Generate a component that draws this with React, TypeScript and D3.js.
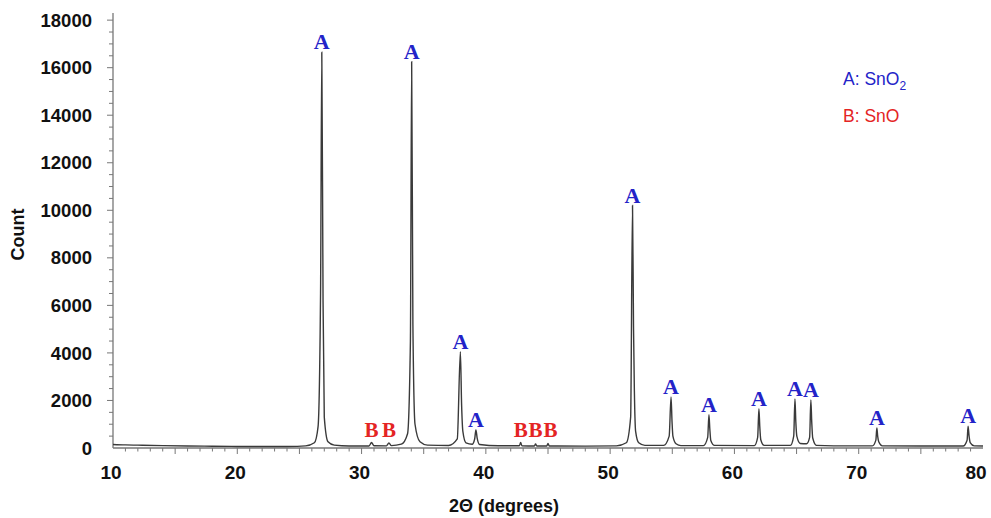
import { useEffect, useRef } from 'react'
import * as d3 from 'd3'

// 2θ positions (degrees) and counts
const twoTheta = [
  10, 11, 12, 14, 16, 18, 20, 22, 24, 25.5, 26.2, 26.5, 26.7, 26.8, 26.9, 27.0, 27.3, 27.8,
  29, 30.6, 30.8, 31.0, 32.0, 32.2, 32.4, 33.2, 33.7, 33.93, 34.03, 34.13, 34.3, 34.7, 35.3,
  37.0, 37.7, 37.95, 38.05, 38.15, 38.4, 38.9, 39.1, 39.2, 39.3, 39.5,
  41, 42.7, 42.8, 42.9, 43.9, 44.0, 44.1, 44.9, 45.0, 45.1,
  48, 50.5, 51.3, 51.65, 51.8, 51.88, 51.95, 52.05, 52.3, 52.8,
  54.3, 54.75, 54.9, 54.98, 55.05, 55.3, 55.7,
  57.5, 57.85, 57.95, 58.02, 58.1, 58.4,
  61.6, 61.87, 61.97, 62.04, 62.12, 62.4,
  64.5, 64.77, 64.87, 64.94, 65.02, 65.3, 65.8, 66.05, 66.15, 66.22, 66.3, 66.6,
  68, 71.1, 71.38, 71.46, 71.53, 71.62, 71.9,
  75, 78.4, 78.72, 78.8, 78.88, 78.97, 79.3, 80
]
const counts = [
  150, 130, 120, 100, 85, 75, 65, 60, 65, 90, 220, 900, 6500, 16650, 6200, 1300, 260, 120,
  85, 85, 230, 95, 90, 210, 100, 160, 600, 4500, 16250, 5200, 1000, 260, 120,
  105, 380, 4050, 1800, 700, 220, 160, 380, 760, 420, 150,
  95, 95, 230, 95, 85, 170, 85, 85, 190, 85,
  80, 90, 220, 1300, 10200, 5100, 2400, 700, 220, 110,
  110, 500, 2150, 1100, 500, 180, 100,
  100, 450, 1400, 800, 320, 110,
  100, 450, 1650, 900, 350, 110,
  110, 500, 2060, 1100, 500, 190, 180, 450, 2020, 1100, 420, 110,
  90, 90, 330, 840, 480, 250, 90,
  85, 85, 330, 920, 500, 230, 90, 85
]

// phase markers: 2θ, count of the peak below, letter
const labelTheta = [26.8, 34.03, 37.95, 39.2, 51.8, 54.9, 57.95, 61.97, 64.87, 66.15, 71.46, 78.8,
  30.8, 32.2, 42.8, 44.0, 45.2]
const labelCount = [16650, 16250, 4050, 760, 10200, 2150, 1400, 1650, 2060, 2020, 840, 920,
  230, 210, 230, 170, 190]
const labelText = ['A', 'A', 'A', 'A', 'A', 'A', 'A', 'A', 'A', 'A', 'A', 'A',
  'B', 'B', 'B', 'B', 'B']

const yTicks = [0, 2000, 4000, 6000, 8000, 10000, 12000, 14000, 16000, 18000]
const xTicks = [10, 20, 30, 40, 50, 60, 70, 80]

const blue = '#2323c8'
const red = '#e42424'

function App() {
  const ref = useRef<SVGSVGElement>(null)

  useEffect(() => {
    const svg = d3.select(ref.current)
    svg.selectAll('*').remove()

    const x = d3.scaleLinear().domain([10, 80]).range([113, 983])
    const y = d3.scaleLinear().domain([0, 18300]).range([448, 13])

    const g = svg.append('g')

    // x axis
    const xAxis = g.append('g').attr('transform', `translate(0, ${y(0)})`)
    xAxis.append('line')
      .attr('x1', x(10)).attr('x2', x(80))
      .attr('stroke', '#777').attr('stroke-width', 1.3)
    xAxis.selectAll('.minor')
      .data(d3.range(11, 80, 1))
      .enter()
      .append('line')
      .attr('x1', d => x(d)).attr('x2', d => x(d))
      .attr('y1', 0).attr('y2', d => (d % 5 === 0 ? 6 : 3.5))
      .attr('stroke', '#777').attr('stroke-width', 1)
    xAxis.selectAll('.lbl')
      .data(xTicks)
      .enter()
      .append('text')
      .attr('x', d => (d === 80 ? x(d) - 7 : x(d) - 2))
      .attr('y', 31)
      .attr('text-anchor', 'middle')
      .style('font-family', 'Liberation Sans, Arial, sans-serif')
      .style('font-weight', 'bold')
      .style('font-size', '19px')
      .attr('fill', '#111')
      .text(d => d)

    // y axis
    const yAxis = g.append('g').attr('transform', `translate(${x(10)}, 0)`)
    yAxis.append('line')
      .attr('y1', y(0)).attr('y2', y(18300))
      .attr('stroke', '#777').attr('stroke-width', 1.3)
    yAxis.selectAll('.minor')
      .data(d3.range(500, 18300, 500))
      .enter()
      .append('line')
      .attr('y1', d => y(d)).attr('y2', d => y(d))
      .attr('x1', d => (d % 2000 === 0 ? -6 : -4)).attr('x2', 0)
      .attr('stroke', '#777').attr('stroke-width', 1)
    yAxis.selectAll('.lbl')
      .data(yTicks)
      .enter()
      .append('text')
      .attr('x', -21)
      .attr('y', d => y(d))
      .attr('dy', '0.36em')
      .attr('text-anchor', 'end')
      .style('font-family', 'Liberation Sans, Arial, sans-serif')
      .style('font-weight', 'bold')
      .style('font-size', '18.5px')
      .attr('fill', '#111')
      .text(d => d)

    // axis titles
    g.append('text')
      .attr('transform', `translate(24, ${(y(0) + y(18300)) / 2 + 4}) rotate(-90)`)
      .attr('text-anchor', 'middle')
      .style('font-family', 'Liberation Sans, Arial, sans-serif')
      .style('font-weight', 'bold')
      .style('font-size', '18px')
      .attr('fill', '#111')
      .text('Count')

    g.append('text')
      .attr('x', 504)
      .attr('y', 512)
      .attr('text-anchor', 'middle')
      .style('font-family', 'Liberation Sans, Arial, sans-serif')
      .style('font-weight', 'bold')
      .style('font-size', '18px')
      .attr('fill', '#111')
      .text('2Θ (degrees)')

    // pattern
    const points = twoTheta.map((t, i) => ({ x: t, y: counts[i] }))
    const line = d3.line<{ x: number, y: number }>()
      .x(d => x(d.x))
      .y(d => y(d.y))
      .curve(d3.curveMonotoneX)

    g.append('path')
      .datum(points)
      .attr('d', line)
      .attr('fill', 'none')
      .attr('stroke', '#3a3a3a')
      .attr('stroke-width', 1.4)

    // phase letters
    g.selectAll('.phase')
      .data(labelTheta.map((t, i) => ({ t, c: labelCount[i], s: labelText[i] })))
      .enter()
      .append('text')
      .attr('x', d => x(d.t))
      .attr('y', d => (d.s === 'A' ? y(d.c) - 3 : 437))
      .attr('text-anchor', 'middle')
      .style('font-family', 'Liberation Serif, Times New Roman, serif')
      .style('font-weight', 'bold')
      .style('font-size', d => (d.s === 'A' ? '22px' : '21px'))
      .attr('fill', d => (d.s === 'A' ? blue : red))
      .text(d => d.s)

    // legend
    const legA = g.append('text')
      .attr('x', 843).attr('y', 85)
      .style('font-family', 'Liberation Sans, Arial, sans-serif')
      .style('font-size', '17.5px')
      .attr('fill', blue)
    legA.append('tspan').text('A: SnO')
    legA.append('tspan').attr('dy', 5).style('font-size', '12px').text('2')

    g.append('text')
      .attr('x', 843).attr('y', 122)
      .style('font-family', 'Liberation Sans, Arial, sans-serif')
      .style('font-size', '17.5px')
      .attr('fill', red)
      .text('B: SnO')
  }, [])

  return (
    <svg ref={ref} width={991} height={518}
      style={{ position: 'absolute', left: 0, top: 0, background: '#fff' }} />
  )
}

export default App
